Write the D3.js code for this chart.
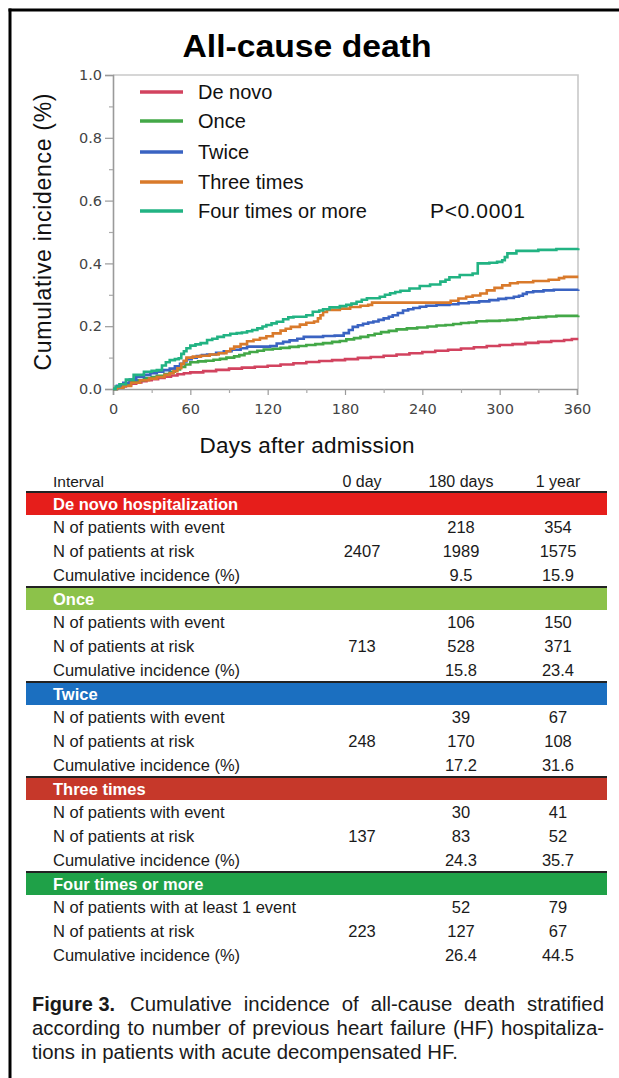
<!DOCTYPE html>
<html>
<head>
<meta charset="utf-8">
<script src="https://cdn.jsdelivr.net/npm/d3@7"></script>
<style>
  html, body { margin: 0; padding: 0; background: #fff; }
  svg { display: block; }
</style>
</head>
<body>
<svg id="chart" width="619" height="1078"></svg>
<script>
// ---------------- DATA ----------------
const seriesNames = ["De novo", "Once", "Twice", "Three times", "Four times or more"];
const seriesColors = ["#d2435f", "#43a847", "#3a63c2", "#d97a2b", "#22b383"];

// Kaplan-Meier style step points [day, cumulative incidence]
const deNovo = [[0,0],[3,0.004],[6,0.008],[10,0.012],[14,0.017],[18,0.021],[22,0.025],[26,0.028],[30,0.031],[35,0.035],[40,0.039],[45,0.043],[50,0.047],[55,0.05],[60,0.053],[70,0.057],[80,0.061],[90,0.065],[100,0.068],[110,0.071],[120,0.074],[130,0.078],[140,0.082],[150,0.086],[160,0.089],[170,0.092],[180,0.095],[190,0.099],[200,0.102],[210,0.106],[220,0.11],[230,0.114],[240,0.118],[250,0.122],[260,0.125],[270,0.129],[280,0.133],[290,0.137],[300,0.14],[310,0.143],[320,0.147],[330,0.15],[340,0.153],[350,0.156],[356,0.159],[361,0.159]];
const once = [[0,0],[3,0.005],[8,0.012],[13,0.022],[18,0.028],[24,0.035],[30,0.038],[34,0.042],[40,0.048],[44,0.055],[48,0.062],[52,0.07],[56,0.078],[60,0.085],[66,0.088],[72,0.09],[78,0.093],[83,0.096],[88,0.1],[94,0.104],[98,0.108],[102,0.113],[106,0.118],[112,0.122],[117,0.126],[124,0.128],[130,0.131],[137,0.134],[144,0.137],[150,0.14],[157,0.143],[163,0.146],[170,0.15],[176,0.153],[181,0.158],[187,0.162],[192,0.166],[198,0.171],[203,0.176],[208,0.181],[214,0.185],[220,0.19],[228,0.193],[236,0.196],[244,0.199],[251,0.202],[258,0.204],[264,0.207],[270,0.21],[276,0.212],[282,0.216],[290,0.217],[300,0.218],[306,0.22],[313,0.222],[318,0.225],[323,0.227],[330,0.229],[336,0.231],[344,0.233],[361,0.234]];
const twice = [[0,0],[3,0.01],[8,0.02],[13,0.03],[18,0.038],[24,0.045],[29,0.05],[34,0.055],[39,0.06],[44,0.065],[48,0.072],[52,0.08],[55,0.088],[57,0.095],[61,0.1],[65,0.105],[69,0.108],[73,0.11],[80,0.115],[86,0.12],[92,0.125],[99,0.13],[104,0.135],[122,0.137],[127,0.145],[132,0.15],[137,0.155],[143,0.16],[148,0.166],[163,0.169],[172,0.17],[179,0.178],[183,0.188],[186,0.198],[190,0.203],[194,0.208],[198,0.212],[202,0.215],[206,0.22],[210,0.225],[214,0.23],[217,0.235],[221,0.242],[225,0.25],[229,0.254],[233,0.258],[238,0.262],[243,0.265],[251,0.268],[261,0.27],[268,0.273],[276,0.276],[284,0.279],[292,0.283],[299,0.287],[305,0.29],[311,0.294],[315,0.297],[318,0.303],[321,0.308],[326,0.311],[334,0.314],[342,0.316],[361,0.317]];
const threeTimes = [[0,0],[3,0.004],[8,0.01],[14,0.02],[21,0.028],[28,0.033],[34,0.038],[40,0.045],[44,0.05],[47,0.057],[50,0.066],[53,0.08],[55,0.09],[57,0.1],[62,0.103],[68,0.106],[75,0.11],[82,0.114],[88,0.12],[91,0.128],[94,0.135],[99,0.143],[104,0.152],[109,0.157],[114,0.162],[119,0.168],[124,0.177],[130,0.186],[134,0.192],[138,0.198],[145,0.205],[150,0.211],[156,0.215],[159,0.225],[161,0.235],[163,0.245],[166,0.252],[176,0.256],[184,0.261],[192,0.265],[198,0.268],[201,0.275],[259,0.275],[262,0.281],[268,0.288],[274,0.294],[279,0.298],[285,0.304],[290,0.314],[296,0.322],[302,0.33],[308,0.337],[314,0.34],[326,0.344],[338,0.348],[346,0.353],[350,0.357],[361,0.357]];
const fourOrMore = [[0,0],[2,0.008],[5,0.015],[10,0.03],[16,0.045],[24,0.055],[30,0.058],[34,0.06],[38,0.075],[41,0.085],[44,0.092],[48,0.095],[51,0.098],[53,0.112],[55,0.12],[57,0.13],[60,0.138],[64,0.142],[68,0.146],[73,0.156],[77,0.16],[81,0.166],[86,0.171],[91,0.176],[96,0.178],[100,0.18],[104,0.184],[108,0.188],[112,0.193],[116,0.199],[119,0.204],[123,0.209],[127,0.214],[132,0.222],[136,0.228],[140,0.23],[150,0.235],[155,0.246],[160,0.25],[163,0.254],[168,0.26],[176,0.264],[181,0.268],[185,0.272],[189,0.278],[193,0.284],[197,0.289],[207,0.294],[211,0.3],[215,0.305],[219,0.309],[223,0.313],[230,0.32],[238,0.328],[246,0.333],[254,0.342],[258,0.348],[261,0.356],[269,0.363],[279,0.368],[283,0.4],[292,0.402],[298,0.405],[302,0.41],[304,0.42],[306,0.432],[313,0.44],[330,0.443],[344,0.446],[361,0.448]];
const allSeries = [deNovo, once, twice, threeTimes, fourOrMore];

const xTicks = [0, 60, 120, 180, 240, 300, 360];
const xMinorTicks = [30, 90, 150, 210, 270, 330];
const yTicks = [0, 0.2, 0.4, 0.6, 0.8, 1.0];
const yMinorTicks = [0.1, 0.3, 0.5, 0.7, 0.9];

// Table data
const colHeaders = ["Interval", "0 day", "180 days", "1 year"];
const groupNames = ["De novo hospitalization", "Once", "Twice", "Three times", "Four times or more"];
const groupColors = ["#e61e1b", "#8cc24a", "#1b6fc0", "#c6382a", "#1fa148"];
const eventLabels = ["N of patients with event", "N of patients with event", "N of patients with event", "N of patients with event", "N of patients with at least 1 event"];
const riskLabel = "N of patients at risk";
const ciLabel = "Cumulative incidence (%)";
const atRisk0 = [2407, 713, 248, 137, 223];
const events180 = [218, 106, 39, 30, 52];
const events365 = [354, 150, 67, 41, 79];
const atRisk180 = [1989, 528, 170, 83, 127];
const atRisk365 = [1575, 371, 108, 52, 67];
const ci180 = ["9.5", "15.8", "17.2", "24.3", "26.4"];
const ci365 = ["15.9", "23.4", "31.6", "35.7", "44.5"];

const captionBold = "Figure 3.";
const captionLines = [
  "Cumulative incidence of all-cause death stratified",
  "according to number of previous heart failure (HF) hospitaliza-",
  "tions in patients with acute decompensated HF."
];

// ---------------- DRAW ----------------
const svg = d3.select("#chart");
const SANS = "'Liberation Sans', Arial, Helvetica, sans-serif";
const TICKF = "'DejaVu Sans', Verdana, sans-serif";

// page frame (left + top black rule)
svg.append("line").attr("x1", 10).attr("x2", 10).attr("y1", 8.5).attr("y2", 1078)
  .attr("stroke", "#000").attr("stroke-width", 3);
svg.append("line").attr("x1", 8.5).attr("x2", 619).attr("y1", 10).attr("y2", 10)
  .attr("stroke", "#000").attr("stroke-width", 3);

// title
svg.append("text").attr("x", 307).attr("y", 57).attr("text-anchor", "middle")
  .attr("font-family", SANS).attr("font-weight", "bold").attr("font-size", 32)
  .attr("textLength", 249).attr("lengthAdjust", "spacingAndGlyphs")
  .text("All-cause death");

const plotL = 113, plotR = 578, plotT = 75, plotB = 389;
const x = d3.scaleLinear().domain([0, 360]).range([plotL, 577]);
const y = d3.scaleLinear().domain([0, 1]).range([plotB, plotT]);

// frame (top/right)
svg.append("path")
  .attr("d", `M${plotL},${plotT}H${plotR}V${plotB}`)
  .attr("fill", "none").attr("stroke", "#c9c9c9").attr("stroke-width", 1.6);

// Y axis
const yAxis = svg.append("g").attr("transform", `translate(${plotL},0)`)
  .call(d3.axisLeft(y).tickValues(yTicks).tickFormat(d3.format(".1f")).tickSize(8).tickPadding(3));
yAxis.select(".domain").attr("stroke", "#9a9a9a").attr("stroke-width", 1.6);
yAxis.selectAll(".tick line").attr("stroke", "#9a9a9a").attr("stroke-width", 1.2);
yAxis.selectAll(".tick text").attr("font-family", TICKF).attr("font-size", 14.5).attr("fill", "#444");
const yMinor = svg.append("g").attr("transform", `translate(${plotL},0)`)
  .call(d3.axisLeft(y).tickValues(yMinorTicks).tickFormat("").tickSize(4));
yMinor.select(".domain").remove();
yMinor.selectAll(".tick line").attr("stroke", "#aaa").attr("stroke-width", 1.2);

// X axis
const xAxis = svg.append("g").attr("transform", `translate(0,${plotB})`)
  .call(d3.axisBottom(x).tickValues(xTicks).tickSize(6).tickPadding(9));
xAxis.select(".domain").attr("stroke", "#9a9a9a").attr("stroke-width", 1.6);
xAxis.selectAll(".tick line").attr("stroke", "#9a9a9a").attr("stroke-width", 1.2);
xAxis.selectAll(".tick text").attr("font-family", TICKF).attr("font-size", 14.5).attr("fill", "#444");
const xMinor = svg.append("g").attr("transform", `translate(0,${plotB})`)
  .call(d3.axisBottom(x).tickValues(xMinorTicks).tickFormat("").tickSize(4));
xMinor.select(".domain").remove();
xMinor.selectAll(".tick line").attr("stroke", "#aaa").attr("stroke-width", 1.2);

// axis titles
svg.append("text").attr("transform", "translate(51,232) rotate(-90)")
  .attr("text-anchor", "middle").attr("font-family", SANS).attr("font-size", 23)
  .attr("fill", "#111").attr("textLength", 277).attr("lengthAdjust", "spacing")
  .text("Cumulative incidence (%)");
svg.append("text").attr("x", 307).attr("y", 453).attr("text-anchor", "middle")
  .attr("font-family", SANS).attr("font-size", 22.5).attr("fill", "#111")
  .attr("textLength", 215).attr("lengthAdjust", "spacing")
  .text("Days after admission");

// curves
const line = d3.line().x(d => x(d[0])).y(d => y(d[1])).curve(d3.curveStepAfter);
svg.append("g").selectAll("path").data(allSeries).join("path")
  .attr("d", line).attr("fill", "none")
  .attr("stroke", (d, i) => seriesColors[i]).attr("stroke-width", 2.6)
  .attr("stroke-linejoin", "miter");

// legend
const legendY = [92, 121, 152, 182, 211];
const lg = svg.append("g");
seriesNames.forEach((name, i) => {
  lg.append("line").attr("x1", 140).attr("x2", 183).attr("y1", legendY[i]).attr("y2", legendY[i])
    .attr("stroke", seriesColors[i]).attr("stroke-width", 3.5);
  lg.append("text").attr("x", 198).attr("y", legendY[i] + 7).attr("font-family", SANS)
    .attr("font-size", 20).attr("fill", "#111").text(name);
});
svg.append("text").attr("x", 430).attr("y", 218).attr("font-family", SANS)
  .attr("font-size", 21).attr("fill", "#111").attr("textLength", 95).attr("lengthAdjust", "spacing")
  .text("P<0.0001");

// ---------------- TABLE ----------------
const colX = [53, 362, 461, 558];
const tableFont = 16.5;
const tg = svg.append("g").attr("font-family", SANS).attr("fill", "#1a1a1a");
tg.append("text").attr("x", colX[0]).attr("y", 487).attr("font-size", 15.5).text(colHeaders[0]);
[1, 2, 3].forEach(c => tg.append("text").attr("x", colX[c]).attr("y", 487)
  .attr("text-anchor", "middle").attr("font-size", 16).text(colHeaders[c]));

const bandL = 26, bandR = 607, groupH = 95, firstTop = 492;
groupNames.forEach((g, k) => {
  const top = firstTop + k * groupH;
  tg.append("rect").attr("x", bandL).attr("y", top).attr("width", bandR - bandL).attr("height", 23)
    .attr("fill", groupColors[k]);
  tg.append("line").attr("x1", bandL).attr("x2", bandR).attr("y1", top).attr("y2", top)
    .attr("stroke", "#222").attr("stroke-width", 2);
  tg.append("text").attr("x", colX[0]).attr("y", top + 17.5).attr("font-size", 16.5)
    .attr("font-weight", "bold").attr("fill", "#fff").text(g);
  const rows = [
    [eventLabels[k], "", events180[k], events365[k]],
    [riskLabel, atRisk0[k], atRisk180[k], atRisk365[k]],
    [ciLabel, "", ci180[k], ci365[k]]
  ];
  rows.forEach((r, j) => {
    const yy = top + 40.5 + j * 24;
    tg.append("text").attr("x", colX[0]).attr("y", yy).attr("font-size", tableFont).text(r[0]);
    [1, 2, 3].forEach(c => {
      if (r[c] !== "") tg.append("text").attr("x", colX[c]).attr("y", yy)
        .attr("text-anchor", "middle").attr("font-size", tableFont).text(r[c]);
    });
  });
});

// ---------------- CAPTION ----------------
const capRight = 604;
const capBase = [1011, 1035, 1059];
const capStart = [130, 32, 32];
const cg = svg.append("g").attr("font-family", SANS).attr("fill", "#1a1a1a");
cg.append("text").attr("x", 32).attr("y", capBase[0]).attr("font-size", 21)
  .attr("font-weight", "bold").attr("textLength", 83).attr("lengthAdjust", "spacingAndGlyphs")
  .text(captionBold);
// pick a font size so that the second (longest) line fits with ~1.5px extra per space
const probe = cg.append("text").attr("font-size", 20).text(captionLines[1]);
const probeLen = probe.node().getComputedTextLength();
probe.remove();
const spaces1 = (captionLines[1].match(/ /g) || []).length;
const capFont = 20 * (capRight - capStart[1] - spaces1 * 1.5) / probeLen;
captionLines.forEach((t, i) => {
  const el = cg.append("text").attr("x", capStart[i]).attr("y", capBase[i])
    .attr("font-size", capFont).text(t);
  if (i < 2) {
    const len = el.node().getComputedTextLength();
    const spaces = (t.match(/ /g) || []).length;
    el.attr("word-spacing", (capRight - capStart[i] - len) / spaces);
  }
});
</script>
</body>
</html>
